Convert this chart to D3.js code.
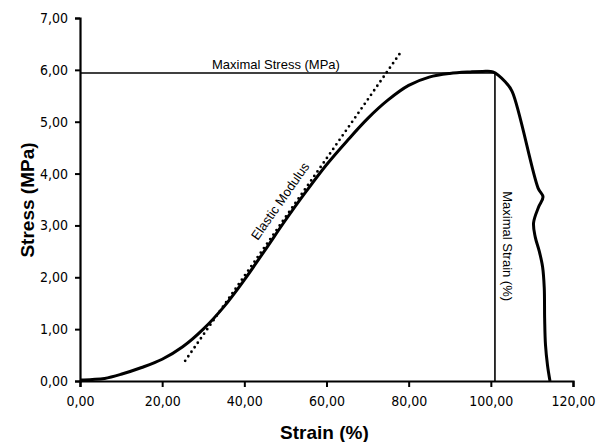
<!DOCTYPE html>
<html>
<head>
<meta charset="utf-8">
<script src="https://cdnjs.cloudflare.com/ajax/libs/d3/7.8.5/d3.min.js"></script>
<style>
  html, body { margin: 0; padding: 0; background: #ffffff; }
  svg { display: block; }
</style>
</head>
<body>
<svg id="chart"></svg>
<script>
// stress-strain curve
const strain = [0, 3, 6, 10, 15, 20, 25, 30, 35, 40, 45, 50, 55, 60, 65, 70, 75, 80, 85, 90, 95, 98, 100.5,
  103.5, 105.2, 111.5, 112.7, 111.6, 110.4, 110.8, 111.8, 112.6, 113.0, 113.1, 113.3, 113.8, 114.4];
const stress = [0.02, 0.03, 0.05, 0.13, 0.26, 0.42, 0.66, 1.0, 1.43, 1.95, 2.52, 3.1, 3.65, 4.17, 4.63, 5.06, 5.42, 5.7, 5.86, 5.93, 5.96, 5.97, 5.96,
  5.77, 5.58, 3.72, 3.55, 3.35, 3.05, 2.78, 2.5, 2.2, 1.8, 1.2, 0.7, 0.3, 0.0];

// tangent line for the elastic modulus
const elasticStrain = [25.6, 77.9];
const elasticStress = [0.39, 6.32];

const maxStress = 5.94;
const maxStrain = 101;

const xTicks = [0, 20, 40, 60, 80, 100, 120];
const yTicks = [0, 1, 2, 3, 4, 5, 6, 7];

const W = 599, H = 442;
const margin = { top: 18, right: 26, bottom: 61, left: 80 };
const width = W - margin.left - margin.right;
const height = H - margin.top - margin.bottom;

const fmt = v => d3.format(".2f")(v).replace(".", ",");
const tickFont = "'Liberation Sans Narrow', 'DejaVu Sans Condensed', 'Liberation Sans', sans-serif";
const labelFont = "'Liberation Sans', Arial, sans-serif";

const svg = d3.select('#chart')
  .attr('width', W)
  .attr('height', H)
  .append('g')
  .attr('transform', `translate(${margin.left},${margin.top})`);

const x = d3.scaleLinear().domain([0, 120]).range([0, width]);
const y = d3.scaleLinear().domain([0, 7]).range([height, 0]);

// axes
const xAxis = svg.append('g')
  .attr('transform', `translate(0,${height})`)
  .call(d3.axisBottom(x).tickValues(xTicks).tickFormat(fmt).tickSizeOuter(0).tickSize(6).tickPadding(9));

const yAxis = svg.append('g')
  .call(d3.axisLeft(y).tickValues(yTicks).tickFormat(fmt).tickSizeOuter(0).tickSize(5).tickPadding(7));

[xAxis, yAxis].forEach(ax => {
  ax.select('.domain').attr('stroke', '#000').attr('stroke-width', 2.2);
  ax.selectAll('.tick line').attr('stroke', '#000').attr('stroke-width', 2);
  ax.selectAll('.tick text')
    .attr('fill', '#000')
    .style('font-family', tickFont)
    .style('font-size', '14px');
});

// max stress / max strain guide lines
svg.append('line')
  .attr('x1', x(0)).attr('x2', x(maxStrain))
  .attr('y1', y(maxStress)).attr('y2', y(maxStress))
  .attr('stroke', '#000').attr('stroke-width', 1.6);

svg.append('line')
  .attr('x1', x(maxStrain)).attr('x2', x(maxStrain))
  .attr('y1', y(maxStress)).attr('y2', y(0))
  .attr('stroke', '#000').attr('stroke-width', 1.6);

// elastic modulus dotted line
svg.append('line')
  .attr('x1', x(elasticStrain[0])).attr('y1', y(elasticStress[0]))
  .attr('x2', x(elasticStrain[1])).attr('y2', y(elasticStress[1]))
  .attr('stroke', '#000')
  .attr('stroke-width', 2.8)
  .attr('stroke-linecap', 'round')
  .attr('stroke-dasharray', '0,5.5');

// main curve
const pts = strain.map((s, i) => [s, stress[i]]);
const line = d3.line()
  .x(d => x(d[0]))
  .y(d => y(d[1]))
  .curve(d3.curveCatmullRom.alpha(0.5));

svg.append('path')
  .datum(pts)
  .attr('fill', 'none')
  .attr('stroke', '#000')
  .attr('stroke-width', 3)
  .attr('stroke-linejoin', 'round')
  .attr('d', line);

// annotations
svg.append('text')
  .attr('x', x(47.7))
  .attr('y', y(maxStress) - 4)
  .attr('text-anchor', 'middle')
  .style('font-family', labelFont)
  .style('font-size', '13px')
  .text('Maximal Stress (MPa)');

const angle = Math.atan2(y(elasticStress[1]) - y(elasticStress[0]), x(elasticStrain[1]) - x(elasticStrain[0])) * 180 / Math.PI;
svg.append('text')
  .attr('transform', `translate(${x(48.7)},${y(3.47)}) rotate(${angle})`)
  .attr('text-anchor', 'middle')
  .attr('dy', '0.35em')
  .style('font-family', labelFont)
  .style('font-size', '13px')
  .text('Elastic Modulus');

svg.append('text')
  .attr('transform', `translate(${x(104)},${y(2.6)}) rotate(90)`)
  .attr('text-anchor', 'middle')
  .attr('dy', '0.35em')
  .style('font-family', labelFont)
  .style('font-size', '13px')
  .text('Maximal Strain (%)');

// axis titles
svg.append('text')
  .attr('x', x(59.5))
  .attr('y', height + 58)
  .attr('text-anchor', 'middle')
  .style('font-family', labelFont)
  .style('font-weight', 'bold')
  .style('font-size', '19px')
  .text('Strain (%)');

svg.append('text')
  .attr('transform', `translate(${27 - margin.left},${y(3.49)}) rotate(-90)`)
  .attr('text-anchor', 'middle')
  .attr('dy', '0.35em')
  .style('font-family', labelFont)
  .style('font-weight', 'bold')
  .style('font-size', '19px')
  .text('Stress (MPa)');
</script>
</body>
</html>
